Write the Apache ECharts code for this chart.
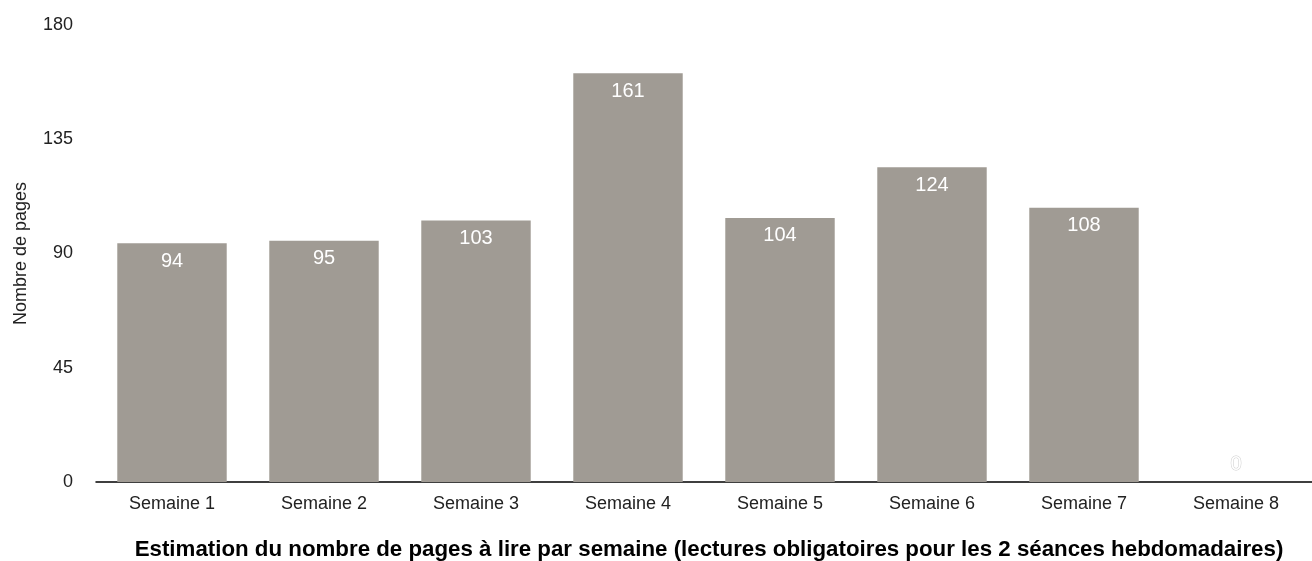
<!DOCTYPE html>
<html><head><meta charset="utf-8">
<script src="https://cdn.jsdelivr.net/npm/echarts@6/dist/echarts.min.js"></script>
<style>html,body{margin:0;padding:0;background:#fff}#c{width:1312px;height:561px}</style>
</head><body><div id="c"></div>
<script>
const categories = ['Semaine 1','Semaine 2','Semaine 3','Semaine 4','Semaine 5','Semaine 6','Semaine 7','Semaine 8'];
const pages = [94, 95, 103, 161, 104, 124, 108, 0];
const yTicks = [0, 45, 90, 135, 180];
const titleText = 'Estimation du nombre de pages à lire par semaine (lectures obligatoires pour les 2 séances hebdomadaires)';
const yName = 'Nombre de pages';

const chart = echarts.init(document.getElementById('c'));
const font = 'Liberation Sans, Arial, Helvetica, sans-serif';
chart.setOption({
  animation: false,
  title: {
    text: titleText, left: 704, top: 534, textAlign: 'center',
    textStyle: {fontFamily: font, fontSize: 22.3, fontWeight: 'bold', color: '#000'}
  },
  grid: {left: 96, top: 25, width: 1227, height: 457, containLabel: false},
  xAxis: {
    type: 'category', data: categories,
    axisLine: {show: true, lineStyle: {color: '#000', width: 1.5}},
    axisTick: {show: false},
    axisLabel: {fontFamily: font, fontSize: 18, color: '#222', margin: 13}
  },
  yAxis: {
    type: 'value', min: yTicks[0], max: yTicks[yTicks.length-1], interval: 45,
    name: yName, nameLocation: 'middle', nameGap: 66, nameRotate: 90,
    nameTextStyle: {fontFamily: font, fontSize: 18, color: '#222'},
    axisLine: {show: false}, axisTick: {show: false}, splitLine: {show: false},
    axisLabel: {fontFamily: font, fontSize: 18, color: '#222', margin: 23}
  },
  series: [{
    type: 'bar', barCategoryGap: '28%',
    itemStyle: {color: '#a09b94'},
    label: {show: true, position: 'insideTop', distance: 8, color: '#fff',
      fontFamily: font, fontSize: 20},
    data: pages.map(v => v === 0 ? {value: v, label: {position: 'top', distance: 8, color: '#fff', textBorderColor: '#ccc', textBorderWidth: 1}} : v)
  }]
});
</script></body></html>
